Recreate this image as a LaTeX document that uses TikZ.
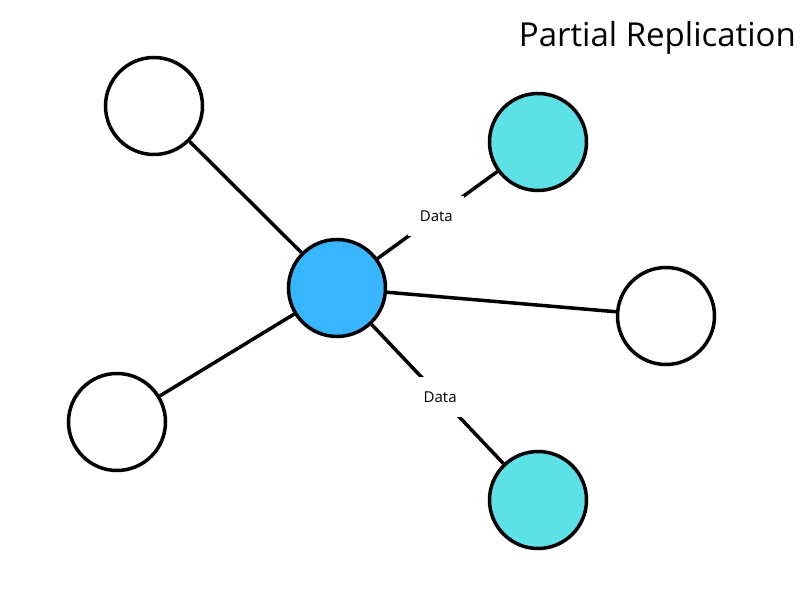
\documentclass[tikz,border=0pt]{standalone}
\usepackage{fontspec}
\setmainfont{Open Sans}
\usepackage{tikz}
\usetikzlibrary{arrows.meta}
\definecolor{hub}{HTML}{38B6FF}
\definecolor{copy}{HTML}{5CE1E6}

\begin{document}
\begin{tikzpicture}[x=1pt,y=-1pt,line width=3.5pt]
\tikzstyle{site}=[circle,draw=black,fill=white,minimum size=97pt,inner sep=0pt]
\tikzstyle{lbl}=[fill=white,inner sep=0pt,minimum width=56pt,minimum height=40pt,font=\fontsize{15}{18}\selectfont]
\useasboundingbox (0,0) rectangle (803,593);
\begin{scope}
    \node[site] (a) at (154,106) {};
    \node[site,fill=copy] (b) at (538,142) {};
    \node[site,fill=hub] (c) at (337,288) {};
    \node[site] (d) at (666,316) {};
    \node[site] (e) at (117,422) {};
    \node[site,fill=copy] (f) at (538,500) {};

    \path [-] (c) edge (a);
    \path [-] (c) edge node[lbl,pos=0.49] {Data} (b);
    \path [-] (c) edge (d);
    \path [-] (c) edge (e);
    \path [-] (c) edge node[lbl,pos=0.52] {Data} (f);

    \node[anchor=base east,font=\fontsize{33}{40}\selectfont] (t) at (801,47) {Partial Replication};
\end{scope}
\end{tikzpicture}
\end{document}
